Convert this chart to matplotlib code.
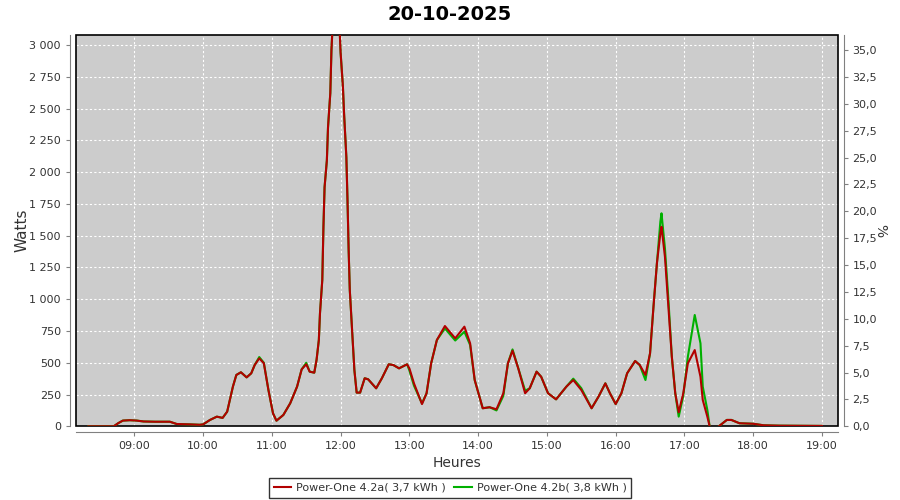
import matplotlib
matplotlib.use("Agg")
import matplotlib.pyplot as plt
import matplotlib.dates as mdates
from matplotlib.patches import Rectangle
from matplotlib.ticker import FuncFormatter, MultipleLocator
import numpy as np
import pandas as pd

day = "2025-10-20"

# sample times (HH:MM) and power in watts for both inverters
times = ["08:20", "08:42", "08:46", "08:50", "08:56", "09:02", "09:08", "09:18", "09:31", "09:37",
         "09:49", "09:57", "10:00", "10:06", "10:12", "10:17", "10:21", "10:26", "10:29", "10:33",
         "10:38", "10:42", "10:45", "10:49", "10:53", "10:57", "11:01", "11:04", "11:10", "11:16",
         "11:22", "11:26", "11:30", "11:33", "11:37", "11:39", "11:41", "11:42", "11:44", "11:45",
         "11:46", "11:48", "11:49", "11:51", "11:52", "11:53", "11:56", "11:59", "12:00", "12:02",
         "12:03", "12:05", "12:06", "12:07", "12:08", "12:10", "12:12", "12:14", "12:17", "12:21",
         "12:24", "12:31", "12:36", "12:42", "12:46", "12:51", "12:58", "13:00", "13:04", "13:11",
         "13:15", "13:19", "13:24", "13:31", "13:40", "13:48", "13:53", "13:57", "14:04", "14:10",
         "14:16", "14:22", "14:26", "14:30", "14:35", "14:41", "14:45", "14:51", "14:55", "15:01",
         "15:08", "15:17", "15:23", "15:30", "15:39", "15:45", "15:51", "15:55", "16:00", "16:05",
         "16:10", "16:17", "16:21", "16:26", "16:30", "16:33", "16:36", "16:39", "16:40", "16:43",
         "16:46", "16:49", "16:52", "16:55", "16:59", "17:03", "17:09", "17:14", "17:16", "17:20",
         "17:22", "17:26", "17:30", "17:37", "17:41", "17:48", "18:00", "18:09", "18:23", "19:00"]

power_a = [0, 0, 25, 45, 48, 45, 38, 36, 36, 18,
           15, 12, 15, 50, 76, 66, 115, 312, 404, 425,
           385, 417, 482, 535, 496, 286, 102, 44, 89, 181,
           312, 448, 488, 430, 422, 522, 679, 891, 1151, 1568,
           1882, 2093, 2352, 2622, 2962, 3150, 3350, 3150, 2938, 2672,
           2462, 2118, 1780, 1387, 1072, 758, 443, 265, 265, 378,
           370, 299, 378, 488, 482, 456, 488, 456, 338, 175,
           260, 496, 679, 789, 692, 784, 653, 364, 142, 150,
           134, 260, 496, 595, 456, 260, 299, 430, 390, 260,
           212, 312, 364, 286, 142, 233, 338, 260, 175, 260,
           417, 514, 482, 404, 574, 941, 1283, 1518, 1570, 1334,
           941, 548, 260, 110, 260, 496, 600, 390, 207, 76,
           0, np.nan, 0, 50, 50, 24, 20, 8, 5, 3]

power_b = [0, 0, 25, 45, 48, 45, 38, 36, 36, 18,
           15, 12, 15, 50, 76, 66, 115, 312, 404, 425,
           385, 417, 482, 545, 500, 286, 102, 44, 89, 181,
           312, 448, 500, 430, 422, 522, 679, 891, 1151, 1568,
           1882, 2093, 2352, 2622, 2962, 3150, 3350, 3150, 2938, 2672,
           2462, 2118, 1780, 1387, 1072, 758, 443, 265, 265, 378,
           370, 299, 378, 488, 482, 456, 488, 440, 320, 180,
           260, 496, 679, 770, 675, 744, 640, 364, 142, 150,
           125, 240, 496, 605, 456, 280, 299, 430, 390, 260,
           212, 312, 375, 300, 142, 233, 338, 260, 175, 260,
           417, 514, 482, 364, 574, 941, 1283, 1610, 1676, 1400,
           1000, 548, 260, 76, 240, 548, 876, 653, 312, 128,
           0, np.nan, 0, 50, 50, 24, 20, 8, 5, 3]

label_a = "Power-One 4.2a( 3,7 kWh )"
label_b = "Power-One 4.2b( 3,8 kWh )"

t = pd.to_datetime([day + " " + s for s in times])

fig = plt.figure(figsize=(9, 5), dpi=100)
ax = fig.add_axes([0.0839, 0.1474, 0.8472, 0.7826])
ax.set_facecolor("#cccccc")

ax.plot(t, power_b, color="#00b000", lw=1.5, label=label_b, zorder=3)
ax.plot(t, power_a, color="#b20000", lw=1.5, label=label_a, zorder=4)

ax.set_xlim(pd.Timestamp(day + " 08:08:40"), pd.Timestamp(day + " 19:14:00"))
ax.set_ylim(0, 3079)
ax.yaxis.set_major_locator(MultipleLocator(250))
ax.yaxis.set_major_formatter(FuncFormatter(lambda v, p: f"{int(v):,}".replace(",", " ")))
ax.xaxis.set_major_locator(mdates.HourLocator())
ax.xaxis.set_major_formatter(mdates.DateFormatter("%H:%M"))

ax.grid(True, color="white", ls=(0, (2, 2)), lw=0.8)
ax.set_axisbelow(True)

# offset grey axes, black frame round the plot area
for side in ["left", "bottom", "right", "top"]:
    ax.spines[side].set_visible(False)
for side in ["left", "bottom"]:
    ax.spines[side].set_visible(True)
    ax.spines[side].set_position(("outward", 4))
    ax.spines[side].set_color("#808080")
ax.add_patch(Rectangle((0, 0), 1, 1, transform=ax.transAxes, fill=False,
                       ec="black", lw=1.2, zorder=2, clip_on=False))
ax.tick_params(colors="#808080", labelcolor="#333333", labelsize=8, length=3)

ax2 = ax.twinx()
ax2.set_ylim(0, 36.4)
ax2.yaxis.set_major_locator(MultipleLocator(2.5))
ax2.yaxis.set_major_formatter(FuncFormatter(lambda v, p: f"{v:.1f}".replace(".", ",")))
for side in ["left", "bottom", "top"]:
    ax2.spines[side].set_visible(False)
ax2.spines["right"].set_position(("outward", 4))
ax2.spines["right"].set_color("#808080")
ax2.tick_params(colors="#808080", labelcolor="#333333", labelsize=8, length=3)
ax2.set_ylabel("%", fontsize=10, color="#333333", rotation=270, va="center")
ax2.yaxis.set_label_coords(1.055, 0.5)

ax.set_ylabel("Watts", fontsize=11, color="#333333", va="center")
ax.yaxis.set_label_coords(-0.07, 0.5)
ax.set_xlabel("Heures", fontsize=10, color="#333333", labelpad=4)
fig.suptitle("20-10-2025", fontsize=14, fontweight="bold", y=0.99)

h, l = ax.get_legend_handles_labels()
leg = fig.legend(h[::-1], l[::-1], loc="center", bbox_to_anchor=(0.5, 0.024), ncol=2,
                 fontsize=8, frameon=True, fancybox=False, edgecolor="black",
                 handlelength=1.6, handletextpad=0.4, columnspacing=0.8,
                 borderpad=0.45, labelcolor="#333333")
leg.get_frame().set_linewidth(1)

fig.savefig("out.png", dpi=100)
